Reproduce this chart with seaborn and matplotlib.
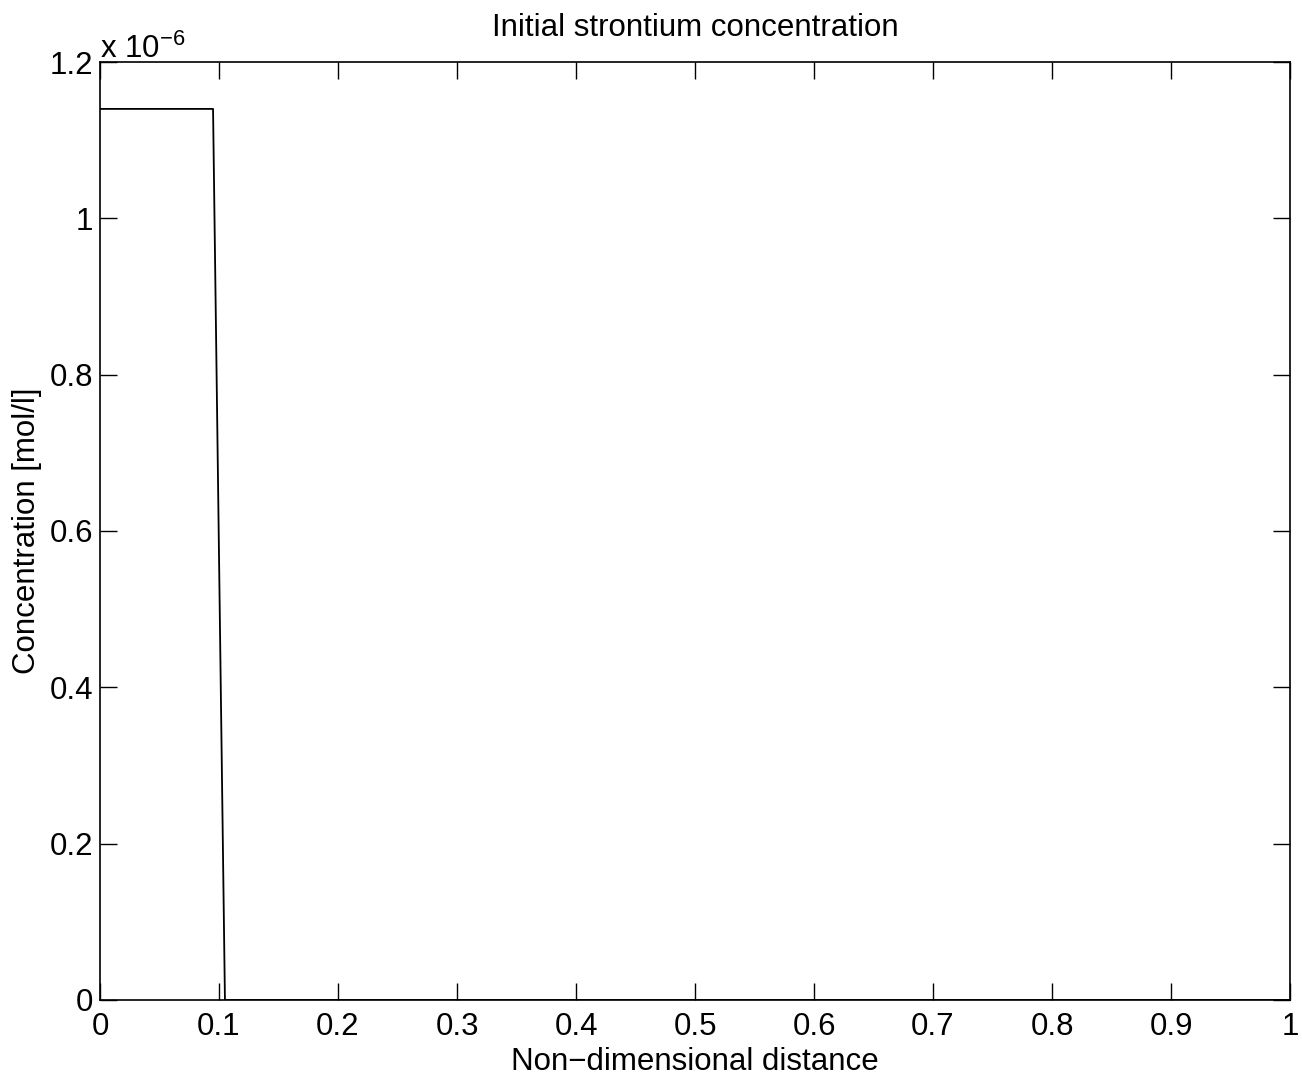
import matplotlib
matplotlib.use("Agg")
import matplotlib.pyplot as plt
import matplotlib.ticker as mticker
import pandas as pd
import seaborn as sns

# Datos
distancia = [0.0, 0.095, 0.105, 1.0]
concentracion = [1.14e-6, 1.14e-6, 0.0, 0.0]
xticks = [0, 0.1, 0.2, 0.3, 0.4, 0.5, 0.6, 0.7, 0.8, 0.9, 1]
yticks = [0, 0.2e-6, 0.4e-6, 0.6e-6, 0.8e-6, 1.0e-6, 1.2e-6]

df = pd.DataFrame({"x": distancia, "c": concentracion})

sns.set_style("ticks")
plt.rcParams["font.family"] = ["Liberation Sans", "DejaVu Sans"]
plt.rcParams["xtick.direction"] = "in"
plt.rcParams["ytick.direction"] = "in"
plt.rcParams["text.color"] = "black"
plt.rcParams["axes.labelcolor"] = "black"
plt.rcParams["xtick.color"] = "black"
plt.rcParams["ytick.color"] = "black"

fig = plt.figure(figsize=(13.02, 10.86), dpi=100)
ax = fig.add_axes([0.0768, 0.0792, 0.9140, 0.8637])

sns.lineplot(data=df, x="x", y="c", color="black", linewidth=1.3, ax=ax,
             estimator=None, sort=False)

ax.set_xlim(0, 1)
ax.set_ylim(0, 1.2e-6)
ax.set_xticks(xticks)
ax.set_yticks(yticks)
ax.xaxis.set_major_formatter(mticker.FuncFormatter(lambda v, p: f"{v:g}"))
ax.yaxis.set_major_formatter(mticker.FuncFormatter(lambda v, p: f"{v * 1e6:g}"))
ax.tick_params(labelsize=22.5, length=12, width=1, top=True, right=True)
ax.tick_params(axis="x", pad=9)
ax.tick_params(axis="y", pad=5)
for s in ax.spines.values():
    s.set_linewidth(1.2)
    s.set_color("black")

ax.set_xlabel("Non\u2212dimensional distance", fontsize=22.5, labelpad=3)
ax.set_ylabel("Concentration [mol/l]", fontsize=22.5, labelpad=5)
ax.set_title("Initial strontium concentration", fontsize=22.5, pad=19)
ax.text(0.0, 0.997, "x 10$^{\\mathregular{\u22126}}$", transform=ax.transAxes,
        fontsize=22.5, ha="left", va="bottom")

fig.savefig("out.png", dpi=100, facecolor="white")
